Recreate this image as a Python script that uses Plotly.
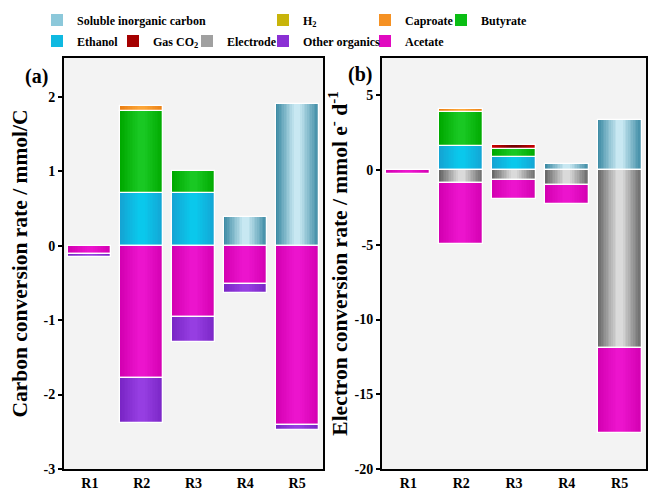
import numpy as np
import plotly.graph_objects as go

reactors = ["R1", "R2", "R3", "R4", "R5"]

# stacking order (positive up, negative down)
series_names = ["Soluble inorganic carbon", "Ethanol", "Butyrate", "Caproate",
                "Gas CO<sub>2</sub>", "H<sub>2</sub>", "Electrode", "Acetate", "Other organics"]

# Panel (a): carbon conversion rate / mmol/C
carbon_sic = [0, 0, 0, 0.38, 1.90]
carbon_ethanol = [0, 0.71, 0.71, 0, 0]
carbon_butyrate = [0, 1.10, 0.29, 0, 0]
carbon_caproate = [0, 0.07, 0, 0, 0]
carbon_gas_co2 = [0, 0, 0, 0, 0]
carbon_h2 = [0, 0, 0, 0, 0]
carbon_electrode = [0, 0, 0, 0, 0]
carbon_acetate = [-0.11, -1.78, -0.96, -0.51, -2.41]
carbon_other = [-0.04, -0.60, -0.34, -0.12, -0.07]

# Panel (b): electron conversion rate / mmol e- d-1
electron_sic = [0, 0, 0, 0.44, 3.36]
electron_ethanol = [0, 1.64, 0.88, 0, 0]
electron_butyrate = [0, 2.26, 0.55, 0, 0]
electron_caproate = [0, 0.16, 0, 0, 0]
electron_gas_co2 = [0, 0, 0.27, 0, 0]
electron_h2 = [0, 0, 0, 0, 0]
electron_electrode = [0, -0.87, -0.66, -1.03, -11.9]
electron_acetate = [-0.28, -4.10, -1.27, -1.21, -5.68]
electron_other = [0, 0, 0, 0, 0]

carbon_tickvals = [-3, -2, -1, 0, 1, 2]
carbon_ticktext = ["-3", "-2", "-1", "0", "1", "2"]
electron_tickvals = [-20, -15, -10, -5, 0, 5]
electron_ticktext = ["-20", "-15", "-10", "-5", "0", "5"]

carbon_data = [carbon_sic, carbon_ethanol, carbon_butyrate, carbon_caproate, carbon_gas_co2,
               carbon_h2, carbon_electrode, carbon_acetate, carbon_other]
electron_data = [electron_sic, electron_ethanol, electron_butyrate, electron_caproate, electron_gas_co2,
                 electron_h2, electron_electrode, electron_acetate, electron_other]

# (edge colour, centre colour, legend colour)
styles = [
    ((62, 140, 165), (200, 232, 242), (140, 200, 218)),
    ((20, 165, 212), (10, 200, 236), (15, 185, 225)),
    ((0, 170, 0), (25, 200, 35), (10, 190, 20)),
    ((235, 128, 20), (252, 165, 55), (245, 145, 35)),
    ((205, 0, 0), (120, 0, 0), (165, 0, 0)),
    ((165, 148, 0), (228, 212, 40), (200, 180, 10)),
    ((105, 105, 105), (218, 218, 218), (160, 160, 160)),
    ((212, 0, 178), (236, 20, 205), (225, 10, 192)),
    ((122, 38, 198), (150, 62, 226), (138, 48, 212)),
]

# legend placement: (legend id, swatch left x px, row)
legend_pos = [("legend", 52, 0), ("legend2", 52, 1), ("legend3", 456, 0), ("legend4", 380, 0),
              ("legend5", 128, 1), ("legend6", 278, 0), ("legend7", 202, 1), ("legend8", 380, 1),
              ("legend9", 278, 1)]

W, H = 651, 491
BAR_W = 0.83
N_LAYERS = 12
FONT = "Liberation Serif"

fig = go.Figure()


def rgb(c):
    return "rgb(%d,%d,%d)" % c


def add_panel(data, xa, ya, show_legend):
    pos = np.zeros(len(reactors))
    neg = np.zeros(len(reactors))
    for i, vals in enumerate(data):
        v = np.array(vals, dtype=float)
        base = np.where(v >= 0, pos, neg)
        pos = pos + np.where(v > 0, v, 0)
        neg = neg + np.where(v < 0, v, 0)
        y = [None if val == 0 else val for val in v]
        edge, centre, leg = styles[i]
        lid = legend_pos[i][0]
        # base layer carrying the legend entry
        fig.add_trace(go.Bar(x=reactors, y=y, base=base, width=BAR_W, name=series_names[i],
                             marker=dict(color=rgb(leg), line=dict(width=0)),
                             xaxis=xa, yaxis=ya, legend=lid, showlegend=show_legend,
                             hoverinfo="skip"))
        for k in range(N_LAYERS):
            t = k / (N_LAYERS - 1)
            col = tuple(int(round(edge[j] + (centre[j] - edge[j]) * t)) for j in range(3))
            fig.add_trace(go.Bar(x=reactors, y=y, base=base, width=BAR_W * (1 - k / (N_LAYERS + 1)),
                                 marker=dict(color=rgb(col), line=dict(width=0)),
                                 xaxis=xa, yaxis=ya, showlegend=False, hoverinfo="skip"))
        fig.add_trace(go.Bar(x=reactors, y=y, base=base, width=BAR_W,
                             marker=dict(color="rgba(0,0,0,0)", line=dict(width=1.3, color="white")),
                             xaxis=xa, yaxis=ya, showlegend=False, hoverinfo="skip"))


add_panel(carbon_data, "x", "y", True)
add_panel(electron_data, "x2", "y2", False)

top_px, bot_px = 58, 469
ydom = [1 - bot_px / H, 1 - top_px / H]

axis_common = dict(showline=True, linecolor="black", linewidth=2, mirror=True,
                   showgrid=False, zeroline=False, automargin=False)

tickfont = dict(family=FONT, size=14, color="black", weight="bold")
titlefont = dict(family=FONT, size=21.5, color="black", weight="bold")
xtickfont = dict(family=FONT, size=14, color="black", weight="bold")

layout_legends = {}
for lid, sx, row in legend_pos:
    layout_legends[lid] = dict(x=(sx - 15) / W, y=1 - (20 if row == 0 else 41) / H,
                               xanchor="left", yanchor="middle", bgcolor="rgba(0,0,0,0)",
                               borderwidth=0, font=dict(family=FONT, size=12, color="black", weight="bold"),
                               orientation="h")

fig.update_layout(
    width=W, height=H, margin=dict(l=0, r=0, t=0, b=0),
    paper_bgcolor="white", plot_bgcolor="#f3f3f3",
    barmode="overlay", bargap=0,
    xaxis=dict(domain=[64 / W, 323 / W], anchor="y", range=[-0.5, 4.5], ticks="",
               tickfont=xtickfont, **axis_common),
    yaxis=dict(domain=ydom, anchor="x", range=[-3, 2.52], tickvals=carbon_tickvals,
               ticktext=carbon_ticktext, ticks="outside", ticklen=4, tickwidth=2, tickcolor="black",
               tickfont=tickfont,
               title=dict(text="Carbon conversion rate / mmol/C", font=titlefont, standoff=10),
               **axis_common),
    xaxis2=dict(domain=[382 / W, 646 / W], anchor="y2", range=[-0.5, 4.5], ticks="",
                tickfont=xtickfont, **axis_common),
    yaxis2=dict(domain=ydom, anchor="x2", range=[-20, 7.5], tickvals=electron_tickvals,
                ticktext=electron_ticktext, ticks="outside", ticklen=4, tickwidth=2, tickcolor="black",
                tickfont=tickfont,
                title=dict(text="Electron conversion rate / mmol e<sup>-</sup> d<sup>-1</sup>",
                           font=titlefont, standoff=1),
                **axis_common),
    annotations=[
        dict(text="<b>(a)</b>", x=36 / W, y=1 - 77 / H, xref="paper", yref="paper", showarrow=False,
             font=dict(family=FONT, size=20, color="black"), xanchor="center", yanchor="middle"),
        dict(text="<b>(b)</b>", x=360 / W, y=1 - 75 / H, xref="paper", yref="paper", showarrow=False,
             font=dict(family=FONT, size=20, color="black"), xanchor="center", yanchor="middle"),
    ],
    **layout_legends,
)

fig.write_html("out.html", config={"displayModeBar": False},
               post_script="document.body.style.margin='0';")
